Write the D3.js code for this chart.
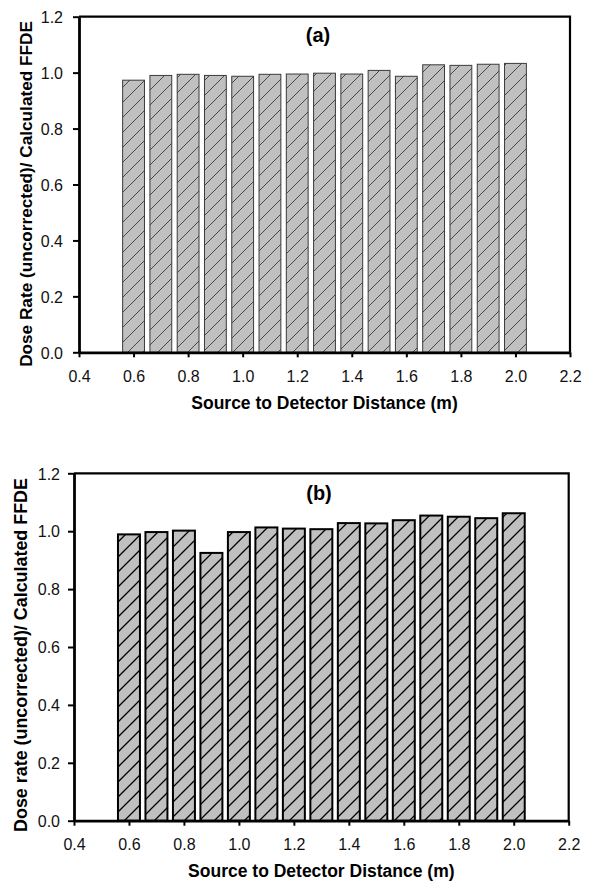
<!DOCTYPE html>
<html>
<head>
<meta charset="utf-8">
<script src="https://cdn.jsdelivr.net/npm/d3@7"></script>
<style>
  html, body { margin: 0; padding: 0; background: #fff; }
  svg { display: block; }
  text { font-family: Arial, "Liberation Sans", sans-serif; }
</style>
</head>
<body>
<svg id="chart" width="591" height="881"></svg>
<script>
// ---- data ----
const distances = [0.6, 0.7, 0.8, 0.9, 1.0, 1.1, 1.2, 1.3, 1.4, 1.5, 1.6, 1.7, 1.8, 1.9, 2.0];
const ratioA = [0.973, 0.990, 0.994, 0.990, 0.987, 0.994, 0.995, 0.998, 0.995, 1.008, 0.987, 1.028, 1.026, 1.030, 1.033];
const ratioB = [0.989, 0.997, 1.002, 0.925, 0.997, 1.013, 1.009, 1.007, 1.028, 1.027, 1.038, 1.054, 1.050, 1.045, 1.062];
const xTicks = [0.4, 0.6, 0.8, 1.0, 1.2, 1.4, 1.6, 1.8, 2.0, 2.2];
const yTicks = [0.0, 0.2, 0.4, 0.6, 0.8, 1.0, 1.2];
const xDomain = [0.4, 2.2];
const yDomain = [0, 1.2];
const barWidth = 0.08;
const xTitle = "Source to Detector Distance (m)";
const yTitleA = "Dose Rate (uncorrected)/ Calculated FFDE";
const yTitleB = "Dose rate (uncorrected)/ Calculated FFDE";

const svg = d3.select("#chart");
const defs = svg.append("defs");

function makePattern(id, lineW, lineColor) {
  const p = 15;
  const pat = defs.append("pattern")
    .attr("id", id).attr("patternUnits", "userSpaceOnUse")
    .attr("width", p).attr("height", p);
  pat.append("rect").attr("width", p).attr("height", p).attr("fill", "#c0c0c0");
  pat.append("path")
    .attr("d", `M-2,${p + 2} L${p + 2},-2 M-2,2 L2,-2 M${p - 2},${p + 2} L${p + 2},${p - 2}`)
    .attr("stroke", lineColor).attr("stroke-width", lineW).attr("fill", "none");
}
makePattern("hatchA", 0.8, "#2a2a2a");
makePattern("hatchB", 1.3, "#000");

const panels = [
  { values: ratioA, left: 79, right: 570, top: 16.7, bottom: 352.3, label: "(a)", labelX: 318, labelY: 42,
    yTitle: yTitleA, yTitleX: 32, yTitleY: 194, yTitleSize: 17.2, xTitleY: 409, tickLabelY: 382,
    yLabelX: 63, pat: "hatchA", barStroke: "#3a3a3a", barStrokeW: 1 },
  { values: ratioB, left: 74, right: 568.7, top: 473.3, bottom: 820.7, label: "(b)", labelX: 319, labelY: 500,
    yTitle: yTitleB, yTitleX: 27, yTitleY: 655, yTitleSize: 17.9, xTitleY: 877, tickLabelY: 850,
    yLabelX: 60, pat: "hatchB", barStroke: "#000", barStrokeW: 2 }
];

panels.forEach(P => {
  const x = d3.scaleLinear().domain(xDomain).range([P.left, P.right]);
  const y = d3.scaleLinear().domain(yDomain).range([P.bottom, P.top]);
  const g = svg.append("g");

  // bars
  g.selectAll("rect.bar").data(distances.map((d, i) => ({ d, v: P.values[i] })))
    .enter().append("rect")
    .attr("class", "bar")
    .attr("x", e => x(e.d - barWidth / 2))
    .attr("width", e => x(e.d + barWidth / 2) - x(e.d - barWidth / 2))
    .attr("y", e => y(e.v))
    .attr("height", e => y(0) - y(e.v))
    .attr("fill", `url(#${P.pat})`)
    .attr("stroke", P.barStroke)
    .attr("stroke-width", P.barStrokeW);

  // frame (top and right)
  g.append("path")
    .attr("d", `M${P.left},${P.top} L${P.right},${P.top} L${P.right},${P.bottom}`)
    .attr("fill", "none").attr("stroke", "#000").attr("stroke-width", 2.2);

  // x axis
  const xAxis = d3.axisBottom(x).tickValues(xTicks).tickSize(5).tickSizeOuter(0)
    .tickFormat(d3.format(".1f"));
  const gx = g.append("g").attr("transform", `translate(0,${P.bottom})`).call(xAxis);
  gx.select(".domain").attr("stroke", "#000").attr("stroke-width", 2.8);
  gx.selectAll(".tick line").attr("stroke", "#000").attr("stroke-width", 2);
  gx.selectAll(".tick text").attr("y", P.tickLabelY - P.bottom).attr("dy", null)
    .attr("font-size", 16).attr("fill", "#111")
    .style("font-family", "Arial, 'Liberation Sans', sans-serif");

  // y axis
  const yAxis = d3.axisLeft(y).tickValues(yTicks).tickSize(6).tickSizeOuter(0)
    .tickFormat(d3.format(".1f"));
  const gy = g.append("g").attr("transform", `translate(${P.left},0)`).call(yAxis);
  gy.select(".domain").attr("stroke", "#000").attr("stroke-width", 2.8);
  gy.selectAll(".tick line").attr("stroke", "#000").attr("stroke-width", 2);
  gy.selectAll(".tick text").attr("x", P.yLabelX - P.left).attr("dy", "0.36em")
    .attr("font-size", 16).attr("fill", "#111")
    .style("font-family", "Arial, 'Liberation Sans', sans-serif");

  // titles
  g.append("text")
    .attr("x", (P.left + P.right) / 2).attr("y", P.xTitleY)
    .attr("text-anchor", "middle").attr("font-weight", "bold").attr("font-size", 17.5)
    .attr("fill", "#000").text(xTitle);

  g.append("text")
    .attr("transform", `translate(${P.yTitleX},${P.yTitleY}) rotate(-90)`)
    .attr("text-anchor", "middle").attr("font-weight", "bold").attr("font-size", P.yTitleSize)
    .attr("fill", "#000").text(P.yTitle);

  g.append("text")
    .attr("x", P.labelX).attr("y", P.labelY)
    .attr("text-anchor", "middle").attr("font-weight", "bold").attr("font-size", 20)
    .attr("fill", "#000").text(P.label);
});
</script>
</body>
</html>
